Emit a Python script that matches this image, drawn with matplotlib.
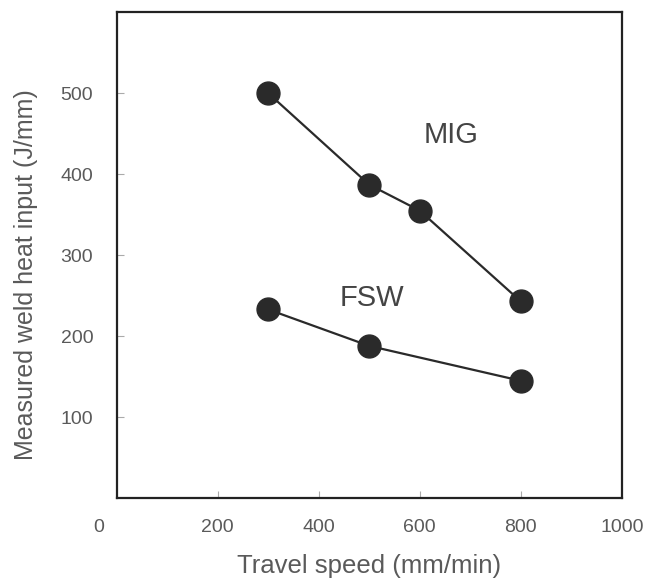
import matplotlib
matplotlib.use("Agg")
import matplotlib.pyplot as plt

mig_speed = [300, 500, 600, 800]
mig_heat = [500, 387, 355, 243]
fsw_speed = [300, 500, 800]
fsw_heat = [233, 188, 145]
x_ticks = [200, 400, 600, 800]
y_ticks = [100, 200, 300, 400, 500]

plt.rcParams['font.family'] = ['Liberation Sans', 'DejaVu Sans']
fig = plt.figure(figsize=(6.45, 5.8), dpi=100)
ax = fig.add_axes([0.181, 0.141, 0.783, 0.838])

for xs, ys in [(mig_speed, mig_heat), (fsw_speed, fsw_heat)]:
    ax.plot(xs, ys, color='#2a2a2a', lw=1.6, marker='o', ms=16.5,
            mfc='#2a2a2a', mec='#2a2a2a')

ax.set_xlim(0, 1000)
ax.set_ylim(0, 600)
ax.set_xticks(x_ticks)
ax.set_yticks(y_ticks)
tl_color = '#5a5a5a'
fs_tick = 14
ax.tick_params(direction='in', length=5, color='#aaaaaa', labelcolor=tl_color,
               labelsize=fs_tick)
ax.tick_params(axis='x', pad=15)
ax.tick_params(axis='y', pad=17)
for s in ax.spines.values():
    s.set_linewidth(1.6)
    s.set_color('#222222')

ax.annotate('0', xy=(0, 0), xycoords='axes fraction', xytext=(-13, -15),
            textcoords='offset points', ha='center', va='top',
            color=tl_color, fontsize=fs_tick, annotation_clip=False)
ax.annotate('1000', xy=(1, 0), xycoords='axes fraction', xytext=(0, -15),
            textcoords='offset points', ha='center', va='top',
            color=tl_color, fontsize=fs_tick, annotation_clip=False)

ax.text(661, 449, 'MIG', ha='center', va='center', fontsize=21, color='#444444')
ax.text(506, 247, 'FSW', ha='center', va='center', fontsize=21, color='#444444')

ax.set_xlabel('Travel speed (mm/min)', fontsize=18.5, color=tl_color)
ax.xaxis.set_label_coords(0.5, -0.114)
ax.set_ylabel('Measured weld heat input (J/mm)', fontsize=18, color=tl_color)
ax.yaxis.set_label_coords(-0.155, 0.46)

fig.savefig('out.png', dpi=100)
